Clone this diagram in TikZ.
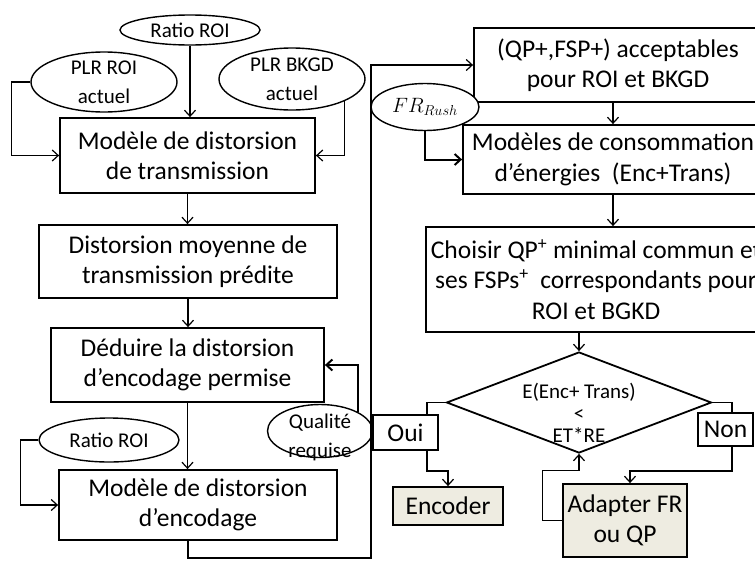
\documentclass[tikz,border=0pt]{standalone}
\usepackage{fontspec}
\setmainfont{Carlito}
\usetikzlibrary{arrows.meta, shapes.geometric}
\definecolor{beige}{HTML}{EEECE1}

\begin{document}
\begin{tikzpicture}[
    x=1pt, y=-1pt,
    box/.style={rectangle, draw, line width=1.8pt, fill=white, inner sep=0pt,
                align=center, font=\fontsize{25.5}{30.5}\selectfont},
    oval/.style={ellipse, draw, line width=1.4pt, fill=white, inner sep=-6pt,
                 align=center, font=\fontsize{21}{29}\selectfont},
    dia/.style={diamond, draw, line width=1.8pt, aspect=2.62, inner sep=0pt,
                minimum width=265pt, minimum height=101pt,
                font=\fontsize{21}{22}\selectfont},
    wire/.style={line width=1.2pt},
    arr/.style={wire, -{Straight Barb[length=6pt,width=11pt]}},
    fed/.style={arr, line width=2pt}
  ]
  \clip (0,0) rectangle (755,563);

  % left column
  \node[oval, minimum width=140pt, minimum height=30pt] (ratioA) at (190,30) {Ratio ROI};
  \node[oval, minimum width=146pt, minimum height=60pt] (plrroi) at (104,82) {PLR ROI\\actuel};
  \node[oval, minimum width=146pt, minimum height=62pt] (plrbkgd) at (292,79) {PLR BKGD\\actuel};
  \node[box, minimum width=255pt, minimum height=75pt] (mtrans) at (187.5,155.5) {Modèle de distorsion\\de transmission};
  \node[box, minimum width=298pt, minimum height=73pt] (dmoy) at (188,261.5) {Distorsion moyenne de\\transmission prédite};
  \node[box, minimum width=273pt, minimum height=74pt] (deduire) at (187.5,365) {Déduire la distorsion\\d’encodage permise};
  \node[oval, minimum width=140pt, minimum height=44pt] (ratioB) at (109,440) {Ratio ROI};
  \node[oval, minimum width=105pt, minimum height=53pt] (qualite) at (320,431)
    {\raisebox{-11pt}[0pt][0pt]{\begin{tabular}{@{}c@{}}Qualité\\requise\end{tabular}}};
  \node[box, minimum width=278pt, minimum height=70pt] (menc) at (198,505) {Modèle de distorsion\\d’encodage};

  % right column
  \node[box, minimum width=288pt, minimum height=74pt] (accept) at (618,65) {(QP+,FSP+) acceptables\\pour ROI et BKGD};
  \node[box, minimum width=300pt, minimum height=69pt] (mcons) at (613,159.5) {Modèles de consommation\\d’énergies~~(Enc+Trans)};
  \node[oval, minimum width=108pt, minimum height=47pt] (frrush) at (425,107) {$FR_{Rush}$};
  \node[box, minimum width=340pt, minimum height=105pt] (choisir) at (596,279.5)
    {Choisir QP\textsuperscript{+} minimal commun et\\ses FSPs\textsuperscript{+}~ correspondants pour\\ROI et BGKD};
  \node[dia] (test) at (579,402.5)
    {\raisebox{-19pt}[0pt][0pt]{\begin{tabular}{@{}c@{}}E(Enc+ Trans)\\<\\ET*RE\end{tabular}}};
  \node[box, minimum width=65pt, minimum height=35pt] (oui) at (405.5,432.5) {Oui};
  \node[box, minimum width=55pt, minimum height=33pt] (non) at (725.5,429.5) {Non};
  \node[box, fill=beige, minimum width=110pt, minimum height=38pt] (encoder) at (448,506) {Encoder};
  \node[box, fill=beige, minimum width=124pt, minimum height=73pt] (adapter) at (625,520.5) {Adapter FR\\ou QP};

  \coordinate (bend) at (371,558);

  % connectors
  \draw[arr] (ratioA.south) -- (ratioA.south |- mtrans.north);
  \draw[arr] (plrroi.west) -- ++(-19,0) |- (mtrans.west);
  \draw[arr] (plrbkgd.south east) |- (mtrans.east);
  \draw[arr] (mtrans.south) -- (mtrans.south |- dmoy.north);
  \draw[arr] (dmoy.south) -- (dmoy.south |- deduire.north);
  \draw[arr] (deduire.south) -- (deduire.south |- menc.north);
  \draw[fed] (qualite.north east) |- (deduire.east);
  \draw[arr] (ratioB.west) -- ++(-18,0) |- (menc.west);
  \draw[arr] ([xshift=-10pt]menc.south) |- (bend) |- (accept.west);
  \draw[arr] (mcons.north |- accept.south) -- (mcons.north);
  \draw[fed] (frrush.south) |- (mcons.west);
  \draw[arr] (mcons.south) -- (mcons.south |- choisir.north);
  \draw[arr] (test.north |- choisir.south) -- (test.north);
  \draw[wire] (test.west) -| ([xshift=21.5pt]oui.north);
  \draw[arr] ([xshift=21.5pt]oui.south) -- ++(0,20) -| (encoder.north);
  \draw[wire] (test.east) -| ([xshift=6.5pt]non.north);
  \draw[arr] ([xshift=6.5pt]non.south) -- ++(0,24) -| ([xshift=5pt]adapter.north);
  \draw[arr] (adapter.west) -- ++(-20,0) -- ++(0,-50) -| (test.south);
\end{tikzpicture}
\end{document}
